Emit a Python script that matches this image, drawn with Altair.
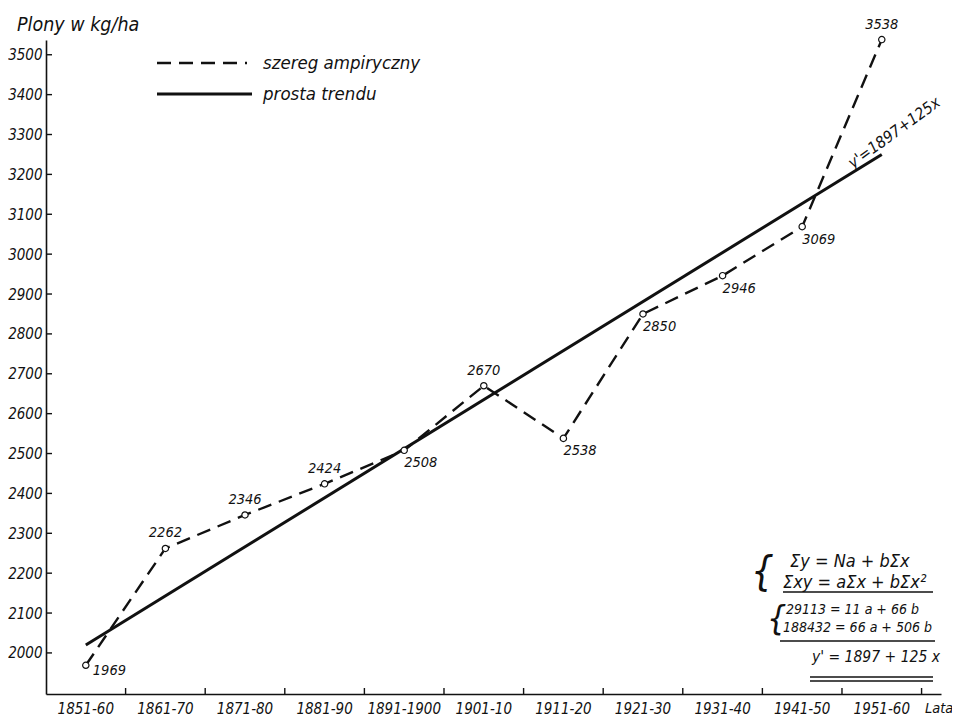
import altair as alt
import pandas as pd

periods = ["1851-60", "1861-70", "1871-80", "1881-90", "1891-1900", "1901-10",
           "1911-20", "1921-30", "1931-40", "1941-50", "1951-60"]
yields = [1969, 2262, 2346, 2424, 2508, 2670, 2538, 2850, 2946, 3069, 3538]
label_place = ["right", "above", "above", "above", "below", "above",
               "below", "below", "below", "below", "above"]
trend_periods = ["1851-60", "1951-60"]
trend_values = [2020, 3250]
y_ticks = [2000, 2100, 2200, 2300, 2400, 2500, 2600, 2700, 2800, 2900,
           3000, 3100, 3200, 3300, 3400, 3500]

FONT = "DejaVu Sans Condensed"
W, H = 895, 654

df = pd.DataFrame({"period": periods, "y": yields, "place": label_place,
                   "label": [str(v) for v in yields]})
trend_df = pd.DataFrame({"period": trend_periods, "y": trend_values})
yt_df = pd.DataFrame({"v": y_ticks})
xt_df = pd.DataFrame({"period": periods})
one = pd.DataFrame({"k": [0]})

xscale = alt.Scale(domain=periods, paddingInner=0, paddingOuter=0.122, align=0)
yscale = alt.Scale(domain=[1897, 3537], nice=False, zero=False)

x_axis = alt.Axis(labelAngle=0, ticks=False, labelPadding=7, labelFontSize=15,
                  labelFont=FONT, labelFontStyle="italic", labelColor="#111",
                  domainColor="#111", domainWidth=1.6, grid=False)
y_axis = alt.Axis(values=y_ticks, format="d", ticks=False, labelPadding=4, labelFontSize=15,
                  labelFont=FONT, labelFontStyle="italic", labelColor="#111",
                  domainColor="#111", domainWidth=1.6, grid=False)

def X(**kw):
    return alt.X("period:N", scale=xscale, sort=periods, axis=x_axis, title=None, **kw)

def Y(field="y"):
    return alt.Y(f"{field}:Q", scale=yscale, axis=y_axis, title=None)

base = alt.Chart(df)

emp_line = base.mark_line(color="#111", strokeWidth=2.4, strokeDash=[14, 8]).encode(x=X(), y=Y())
trend_line = alt.Chart(trend_df).mark_line(color="#111", strokeWidth=3).encode(x=X(), y=Y())
pts = base.mark_point(shape="circle", filled=True, fill="white", stroke="#111",
                      strokeWidth=1.2, size=40, opacity=1).encode(x=X(), y=Y())

txt_kw = dict(font=FONT, fontStyle="italic", fontSize=14.5, color="#111", baseline="middle")
lab_above = base.transform_filter(alt.datum.place == "above").mark_text(
    align="center", dy=-15, **txt_kw).encode(x=X(), y=Y(), text="label:N")
lab_below = base.transform_filter(alt.datum.place == "below").mark_text(
    align="left", dx=0, dy=13, **txt_kw).encode(x=X(), y=Y(), text="label:N")
lab_right = base.transform_filter(alt.datum.place == "right").mark_text(
    align="left", dx=7, dy=6, **txt_kw).encode(x=X(), y=Y(), text="label:N")

x_ticks = alt.Chart(xt_df).mark_rule(color="#111", strokeWidth=1.4).encode(
    x=X(bandPosition=1), y=alt.value(H), y2=alt.value(H - 6))
y_tick_marks = alt.Chart(yt_df).mark_rule(color="#111", strokeWidth=1.4).encode(
    y=Y("v"), x=alt.value(0), x2=alt.value(6))

def label(text, x, y, size=17, align="left", angle=0, baseline="middle"):
    kw = dict(text=text, font=FONT, fontStyle="italic", fontSize=size, color="#111",
              align=align, baseline=baseline)
    if angle:
        kw["angle"] = angle
    return alt.Chart(one).mark_text(**kw).encode(x=alt.value(x), y=alt.value(y))

def hrule(x1, x2, y, dash=None, width=1.5):
    kw = dict(color="#111", strokeWidth=width)
    if dash:
        kw["strokeDash"] = dash
    return alt.Chart(one).mark_rule(**kw).encode(x=alt.value(x1), x2=alt.value(x2), y=alt.value(y))

annotations = [
    label("Plony w kg/ha", -29, -15, size=19.5),
    label("Lata", 879, 669, size=14.5),
    hrule(111, 201, 23, dash=[14, 8], width=2.4),
    hrule(111, 206, 54, width=3),
    label("szereg ampiryczny", 217, 23, size=18.5),
    label("prosta trendu", 217, 54, size=18.5),
    label("y'=1897+125x", 807, 129, size=16, angle=324, baseline="alphabetic"),
    label("{", 705, 533, size=40),
    label("Σy = Na + bΣx", 744, 522, size=18),
    label("Σxy = aΣx + bΣx²", 737, 543, size=18),
    hrule(737, 887, 552),
    label("{", 721, 580, size=34),
    label("29113 = 11 a + 66 b", 740, 570, size=14),
    label("188432 = 66 a + 506 b", 737, 588, size=14),
    hrule(734, 889, 601),
    label("y' = 1897 + 125 x", 766, 617, size=15.5),
    hrule(764, 887, 637),
    hrule(764, 887, 641),
]

chart = alt.layer(
    trend_line, emp_line, pts, lab_above, lab_below, lab_right,
    x_ticks, y_tick_marks, *annotations
).properties(
    width=W, height=H,
    autosize=alt.AutoSizeParams(type="none"),
    padding={"left": 38, "top": 32, "right": 11, "bottom": 24},
    background="white",
).configure_view(stroke=None)

chart.save("out.html", embed_options={"renderer": "svg", "actions": False})
